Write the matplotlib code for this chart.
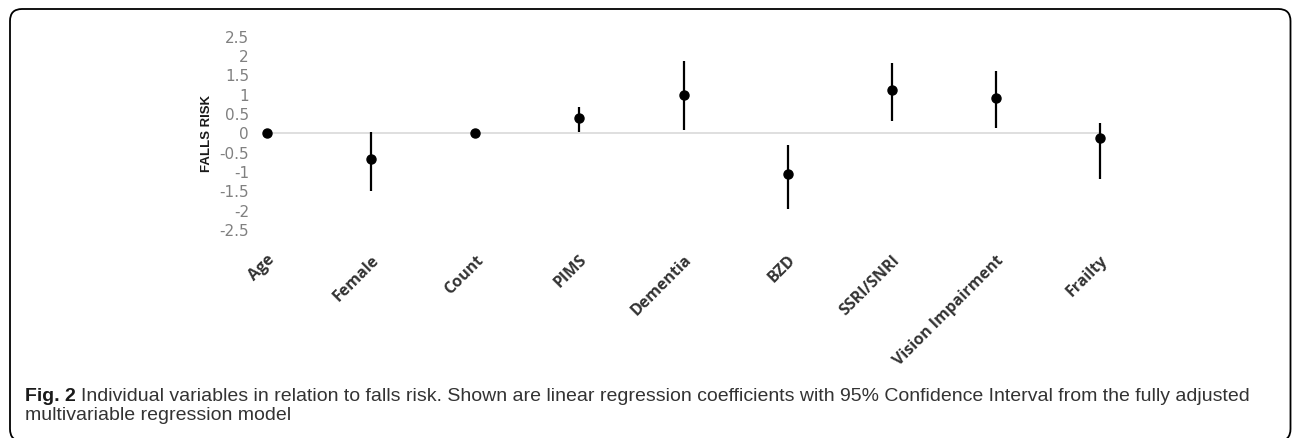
import matplotlib
matplotlib.use("Agg")
import matplotlib.pyplot as plt
from matplotlib.patches import FancyBboxPatch
import numpy as np

# data
variables = ["Age", "Female", "Count", "PIMS", "Dementia", "BZD", "SSRI/SNRI", "Vision Impairment", "Frailty"]
coef = [0.02, -0.66, 0.02, 0.40, 0.99, -1.05, 1.11, 0.91, -0.13]
ci_low = [0.02, -1.48, 0.02, 0.03, 0.09, -1.96, 0.31, 0.13, -1.18]
ci_high = [0.02, 0.03, 0.02, 0.67, 1.86, -0.29, 1.82, 1.60, 0.26]
yticks = [2.5, 2, 1.5, 1, 0.5, 0, -0.5, -1, -1.5, -2, -2.5]

plt.rcParams["font.family"] = ["Liberation Sans", "DejaVu Sans"]

W, H = 1292, 438
fig = plt.figure(figsize=(W / 100, H / 100), dpi=100)

# axes placed so categories span 267..1100 px, y from 36.7 (2.5) to 230 (-2.5)
ax = fig.add_axes([267 / W, 1 - 230 / H, (1100 - 267) / W, (230 - 36.7) / H])
x = np.arange(len(variables))
coef = np.array(coef)
err = np.array([coef - np.array(ci_low), np.array(ci_high) - coef])

ax.axhline(0, color="#d9d9d9", linewidth=1.2, zorder=1)
markers, caps, bars = ax.errorbar(x, coef, yerr=err, fmt="o", color="black", markersize=6.5,
                                  elinewidth=1.6, capsize=0, zorder=3)
markers.set_clip_on(False)
for b in bars:
    b.set_clip_on(False)

ax.set_xlim(0, len(variables) - 1)
ax.set_ylim(-2.5, 2.5)
for s in ax.spines.values():
    s.set_visible(False)
ax.set_yticks(yticks)
ax.set_yticklabels([f"{v:g}" for v in yticks], family=["DejaVu Sans"],
                   fontsize=11, color="#808080")
ax.tick_params(axis="y", length=0, pad=13)
ax.set_xticks(x)
ax.set_xticklabels(variables, rotation=45, ha="right", rotation_mode="anchor",
                   family=["Open Sans", "DejaVu Sans"], fontweight="bold",
                   fontsize=11.5, color="#333333")
ax.tick_params(axis="x", length=0, pad=16)
ax.set_ylabel("FALLS RISK", fontweight="bold", fontsize=9.5, color="#1a1a1a")
ax.yaxis.set_label_coords((213 - 267) / (1100 - 267), 0.5)

# rounded frame around the figure panel (bottom edge runs off the image)
frame = FancyBboxPatch((0.10, -0.03), 12.805, 4.38 - 0.09 + 0.03,
                       boxstyle="round,pad=0,rounding_size=0.12",
                       transform=fig.dpi_scale_trans, facecolor="none",
                       edgecolor="black", linewidth=1.3, clip_on=False)
fig.patches.append(frame)

# caption
cap_x = 25 / W
cap_size = 14
t1 = fig.text(cap_x, 1 - 401 / H, "Fig. 2", fontweight="bold", fontsize=cap_size,
              va="baseline", color="#1a1a1a")
fig.canvas.draw()
r = fig.canvas.get_renderer()
bb = t1.get_window_extent(r)
fig.text((bb.x1 + 5) / W, 1 - 401 / H,
         "Individual variables in relation to falls risk. Shown are linear regression "
         "coefficients with 95% Confidence Interval from the fully adjusted",
         fontsize=cap_size, va="baseline", color="#333333")
fig.text(cap_x, 1 - 420 / H, "multivariable regression model", fontsize=cap_size,
         va="baseline", color="#333333")

fig.savefig("out.png", dpi=100)
